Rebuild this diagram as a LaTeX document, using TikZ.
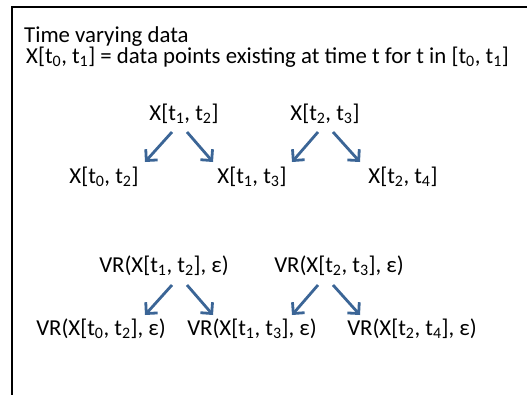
\documentclass[tikz,border=0pt]{standalone}
\usepackage{fontspec}
\setmainfont{Carlito}
\usetikzlibrary{arrows.meta}
\definecolor{arrowblue}{HTML}{3B6596}
\tikzset{
  lbl/.style={anchor=base, inner sep=0pt, font=\fontsize{22.8}{26}\selectfont},
  lblw/.style={anchor=base west, inner sep=0pt, font=\fontsize{22.8}{26}\selectfont},
  conn/.style={draw=arrowblue, line width=2.8pt, -{Straight Barb[length=8pt,width=16pt,line width=2.8pt]}},
  frame/.style={line width=2.6pt}
}
\newcommand{\sbs}[1]{\textsubscript{#1}}
\begin{document}
\begin{tikzpicture}[x=1pt,y=-1pt]
\useasboundingbox (0,0) rectangle (527,394);
\draw[frame] (12,400) -- (12,7) -- (535,7);
\node[lblw] (title) at (24,42) {Time varying data};
\node[lblw] (def) at (26,63.5) {X[t\sbs{0}, t\sbs{1}] = data points existing at time t for t in [t\sbs{0}, t\sbs{1}]};
% X row
\node[lbl] (a12) at (184,120) {X[t\sbs{1}, t\sbs{2}]};
\node[lbl] (a23) at (325,120) {X[t\sbs{2}, t\sbs{3}]};
\node[lbl] (a02) at (104,183) {X[t\sbs{0}, t\sbs{2}]};
\node[lbl] (a13) at (252,183) {X[t\sbs{1}, t\sbs{3}]};
\node[lbl] (a24) at (403,183) {X[t\sbs{2}, t\sbs{4}]};
% VR row
\node[lbl] (v12) at (164,272) {VR(X[t\sbs{1}, t\sbs{2}], ε)};
\node[lbl] (v23) at (339,272) {VR(X[t\sbs{2}, t\sbs{3}], ε)};
\node[lbl] (v02) at (101,335) {VR(X[t\sbs{0}, t\sbs{2}], ε)};
\node[lbl] (v13) at (252,335) {VR(X[t\sbs{1}, t\sbs{3}], ε)};
\node[lbl] (v24) at (412,335) {VR(X[t\sbs{2}, t\sbs{4}], ε)};
% arrows X
\draw[conn] ([shift={(-12,12)}]a12.base) -- ([shift={(41,-21)}]a02.base);
\draw[conn] ([shift={(3,12)}]a12.base) -- ([shift={(-39,-21)}]a13.base);
\draw[conn] ([shift={(-7,12)}]a23.base) -- ([shift={(40,-21)}]a13.base);
\draw[conn] ([shift={(8,12)}]a23.base) -- ([shift={(-43,-21)}]a24.base);
% arrows VR
\draw[conn] ([shift={(8,13)}]v12.base) -- ([shift={(44,-20)}]v02.base);
\draw[conn] ([shift={(23,13)}]v12.base) -- ([shift={(-39,-20)}]v13.base);
\draw[conn] ([shift={(-21,13)}]v23.base) -- ([shift={(40,-20)}]v13.base);
\draw[conn] ([shift={(-6,13)}]v23.base) -- ([shift={(-52,-20)}]v24.base);
\end{tikzpicture}
\end{document}
